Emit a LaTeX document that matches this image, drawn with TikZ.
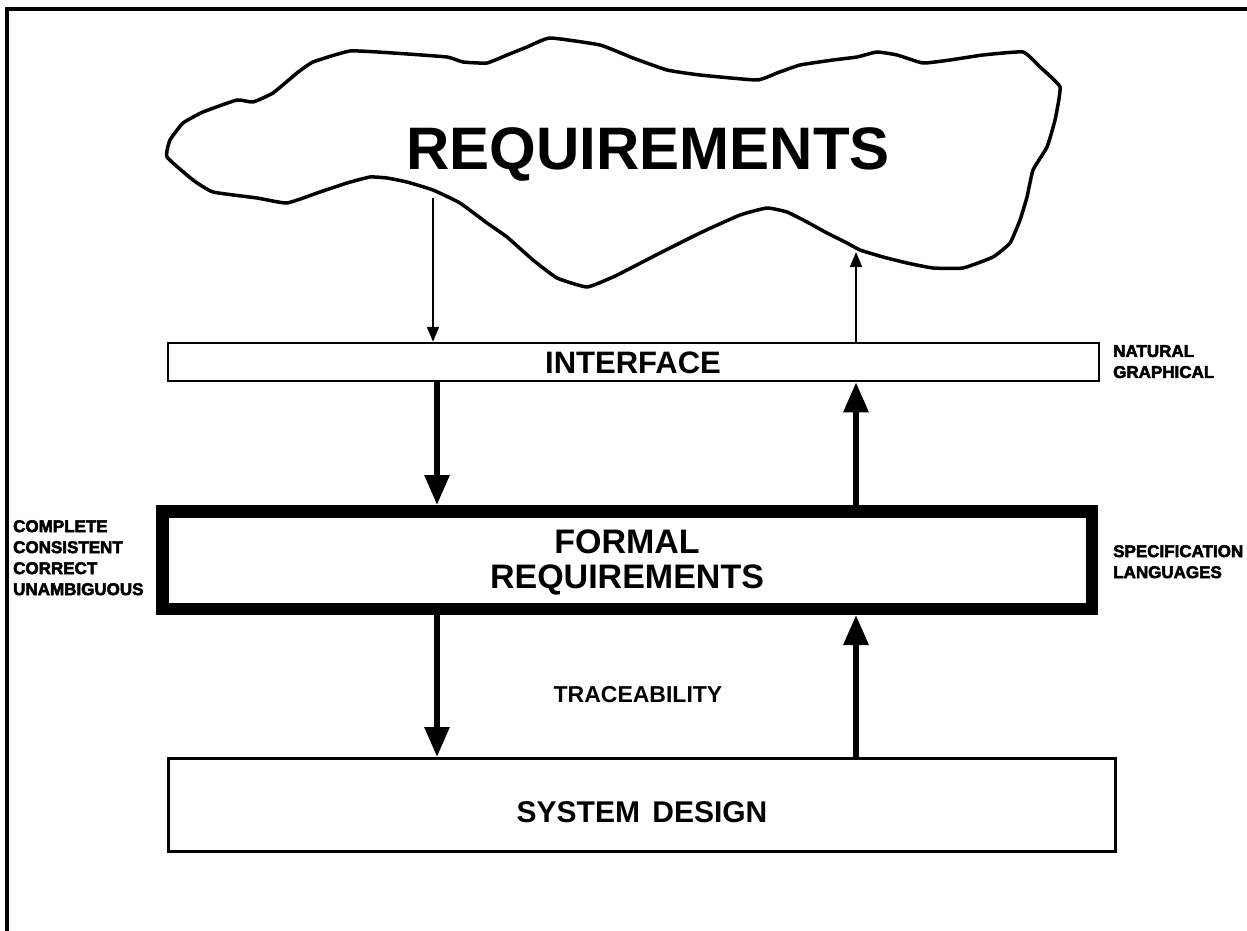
\documentclass[tikz,border=0pt]{standalone}
\usepackage{fontspec}
\setmainfont{Liberation Sans}
\newfontfamily\heavyfont{Liberation Sans}[UprightFont=* Bold, FakeBold=3]
\usetikzlibrary{arrows.meta}

\tikzset{
  outline/.style={line width=3.5pt, line join=round, line cap=round},
  framebox/.style={draw, line width=2.5pt, inner sep=0pt},
  heavybox/.style={draw, line width=12.5pt, inner sep=0pt, align=center},
  thinarrow/.style={line width=2pt, -{Triangle[length=15pt,width=12pt]}},
  thickarrow/.style={line width=6pt, -{Triangle[length=30pt,width=24pt]}},
  sidelabel/.style={font=\heavyfont\fontsize{17}{21}\selectfont, align=left, inner sep=0pt, anchor=north west},
  boxtext/.style={font=\bfseries}
}

\begin{document}
\begin{tikzpicture}[x=1pt,y=-1pt]
\useasboundingbox (0,0) rectangle (1247,931);

% page frame (top and left rules)
\draw[line width=4pt] (7,931) -- (7,9) -- (1247,9);

% requirements cloud
\draw[outline, smooth cycle, tension=0.25] plot coordinates {
  (167,157) (170,140) (183,123) (203,112) (237,100) (253,102) (273,93)
  (297,73) (313,62) (350,51) (393,53) (447,57) (463,62) (487,63) (507,55)
  (527,47) (550,38) (600,45) (633,58) (667,70) (700,75) (757,80) (777,73)
  (800,65) (833,60) (857,57) (877,52) (897,55) (923,63) (950,60) (983,55)
  (1023,52) (1040,67) (1060,87) (1055,120) (1047,147) (1033,170) (1027,197)
  (1020,220) (1010,243) (993,257) (963,268) (933,268) (907,263) (883,257)
  (860,250) (847,243) (827,233) (807,222) (787,212) (767,208) (740,215)
  (700,233) (660,253) (627,270) (613,277) (587,287) (557,278) (533,260)
  (507,237) (487,223) (460,203) (433,190) (407,182) (387,178) (370,177)
  (347,183) (320,192) (287,203) (257,198) (213,192) (193,180)
};
\node[font=\bfseries\fontsize{60}{60}\selectfont, anchor=base, inner sep=0pt]
  (req) at (648,169) {REQUIREMENTS};

% boxes
\node[framebox, minimum width=931pt, minimum height=38pt] (interface) at (633.5,362) {};
\node[boxtext, font=\bfseries\fontsize{31}{31}\selectfont, anchor=base, inner sep=0pt]
  (interfacetext) at (633,373) {INTERFACE};

\node[heavybox, minimum width=929.5pt, minimum height=97.5pt] (formal) at (627,560) {};
\node[font=\bfseries\fontsize{34}{35}\selectfont, align=center, inner sep=0pt]
  (formaltext) at (627,562) {FORMAL\\REQUIREMENTS};

\node[draw, line width=3pt, inner sep=0pt, minimum width=947pt, minimum height=93pt]
  (design) at (642,805) {};
\node[font=\bfseries\fontsize{30}{30}\selectfont, anchor=base, inner sep=0pt]
  (designtext) at (642,822) {SYSTEM\hspace{4pt} DESIGN};

\node[font=\bfseries\fontsize{23}{23}\selectfont, anchor=base, inner sep=0pt]
  (trace) at (638,702) {TRACEABILITY};

% side labels
\node[sidelabel] (qualities) at (13,520) {COMPLETE\\CONSISTENT\\CORRECT\\UNAMBIGUOUS};
\node[sidelabel] (notations) at (1113,345) {NATURAL\\GRAPHICAL};
\node[sidelabel] (languages) at (1113,545) {SPECIFICATION\\LANGUAGES};

% connector end points
\coordinate (cloudL) at (433,198);
\coordinate (cloudR) at (856,252);
\coordinate (xl) at (437,0);
\coordinate (xr) at (856,0);

% arrows
\draw[thinarrow] (cloudL) -- (cloudL |- interface.north);
\draw[thinarrow] (cloudR |- interface.north) -- (cloudR);

\draw[thickarrow] (xl |- interface.south) -- (xl |- formal.north);
\draw[thickarrow] (xr |- formal.north) -- (xr |- interface.south);

\draw[thickarrow] (xl |- formal.south) -- (xl |- design.north);
\draw[thickarrow] (xr |- design.north) -- (xr |- formal.south);
\end{tikzpicture}
\end{document}
